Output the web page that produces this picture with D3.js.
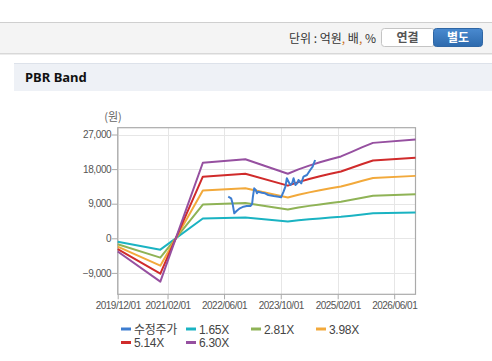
<!DOCTYPE html>
<html><head><meta charset="utf-8">
<script src="https://cdn.jsdelivr.net/npm/d3@7"></script>
<style>
html,body{margin:0;padding:0;background:#fff;width:492px;height:361px;overflow:hidden;font-family:"Liberation Sans",Arial,sans-serif;}
</style></head>
<body>
<svg id="c" width="492" height="361"></svg>
<script>
// ---- data ----
const bandDates = ["2019-12-01","2020-12-01","2021-12-01","2022-12-01","2023-12-01","2024-03-01","2024-06-01","2024-09-01","2024-12-01","2025-03-01","2025-06-01","2025-09-01","2025-12-01","2026-12-01"];
const band165 = [-899,-2954,5148,5387,4397,4693,4953,5178,5387,5579,5886,6207,6501,6732];
const band281 = [-1531,-5030,8767,9175,7489,7992,8436,8818,9175,9501,10023,10571,11071,11465];
const band398 = [-2169,-7124,12418,12995,10607,11319,11948,12489,12995,13456,14197,14973,15681,16238];
const band514 = [-2801,-9201,16037,16782,13698,14618,15430,16129,16782,17378,18334,19337,20252,20971];
const band630 = [-3434,-11277,19656,20570,16790,17917,18913,19769,20570,21300,22472,23701,24822,25704];
const priceDates = ["2022-07-07","2022-08-01","2022-08-13","2022-08-28","2022-09-19","2022-10-15","2022-11-15","2022-12-13","2023-01-13","2023-01-28","2023-02-04","2023-02-15","2023-03-01","2023-03-10","2023-03-22","2023-04-22","2023-05-19","2023-06-16","2023-08-01","2023-09-13","2023-10-04","2023-10-25","2023-11-10","2023-11-22","2023-12-07","2023-12-22","2024-01-07","2024-01-19","2024-02-04","2024-02-19","2024-03-01","2024-03-25","2024-04-13","2024-05-13","2024-06-10","2024-07-01","2024-07-22"];
const priceValues = [10820,10400,9100,6500,7180,7800,8220,8400,8400,8920,10820,13000,12560,11700,12120,11860,11700,11260,11000,10820,10660,12120,13420,15600,14720,13860,14300,15600,13860,14300,15160,14300,16020,16460,17760,18620,20360];
const seriesNames = ["수정주가","1.65X","2.81X","3.98X","5.14X","6.30X"];
const seriesColors = ["#3d7dd0","#1ab3c2","#8fb356","#f2a93b","#d02b2b","#9650a0"];
const yTicks = [-9000,0,9000,18000,27000];
const xTickLabels = ["2019/12/01","2021/02/01","2022/06/01","2023/10/01","2025/02/01","2026/06/01"];

const svg = d3.select("#c");
const parse = d3.timeParse("%Y-%m-%d");
const parseTick = d3.timeParse("%Y/%m/%d");

// ---- header bar ----
svg.append("rect").attr("x",0).attr("y",22).attr("width",492).attr("height",31).attr("fill","#f4f4f4");
svg.append("line").attr("x1",0).attr("x2",492).attr("y1",22.5).attr("y2",22.5).attr("stroke","#cfcfcf");
svg.append("line").attr("x1",0).attr("x2",492).attr("y1",53.5).attr("y2",53.5).attr("stroke","#d8d8d8");
svg.append("line").attr("x1",0).attr("x2",492).attr("y1",54.5).attr("y2",54.5).attr("stroke","#ececec");
const unit = svg.append("text").attr("x",376).attr("y",42.5).attr("text-anchor","end")
  .attr("font-size",12).attr("fill","#333").attr("font-family","'Noto Sans CJK KR',sans-serif");
unit.append("tspan").text("단위 : 억원");
unit.append("tspan").attr("fill","#c8701e").text(",");
unit.append("tspan").text(" 배");
unit.append("tspan").attr("fill","#c8701e").text(",");
unit.append("tspan").text(" %");
svg.append("rect").attr("x",381.5).attr("y",28.5).attr("width",53).attr("height",18).attr("rx",3)
  .attr("fill","#fff").attr("stroke","#c4c4c4");
const grad = svg.append("defs").append("linearGradient").attr("id","bg").attr("x1",0).attr("x2",0).attr("y1",0).attr("y2",1);
grad.append("stop").attr("offset","0%").attr("stop-color","#4a8ad0");
grad.append("stop").attr("offset","100%").attr("stop-color","#2d6aad");
svg.append("rect").attr("x",433.5).attr("y",28.5).attr("width",49).attr("height",18).attr("rx",3)
  .attr("fill","url(#bg)").attr("stroke","#2f66a4");
svg.append("text").attr("x",407.5).attr("y",42).attr("text-anchor","middle").attr("font-size",12)
  .attr("font-weight","bold").attr("fill","#555").attr("font-family","'Noto Sans CJK KR',sans-serif").text("연결");
svg.append("text").attr("x",458).attr("y",42).attr("text-anchor","middle").attr("font-size",12)
  .attr("font-weight","bold").attr("fill","#fff").attr("font-family","'Noto Sans CJK KR',sans-serif").text("별도");

// ---- section title ----
svg.append("rect").attr("x",14).attr("y",63).attr("width",478).attr("height",28).attr("fill","#eef1f6");
svg.append("line").attr("x1",14).attr("x2",492).attr("y1",63.5).attr("y2",63.5).attr("stroke","#dde2ea");
svg.append("text").attr("x",25).attr("y",82).attr("font-size",13).attr("font-weight","bold")
  .attr("fill","#111").attr("font-family","'Noto Sans','Liberation Sans',sans-serif").text("PBR Band");

// ---- chart ----
const L=117.7, R=415.5, T=127.7, B=294.3;
const x = d3.scaleTime().domain([parse("2019-12-01"), parse("2026-12-01")]).range([L,R]);
const y = d3.scaleLinear().domain([(238.3-B)*9000/34.6, (238.3-T)*9000/34.6]).range([B,T]);

const g = svg.append("g");
// grid
g.selectAll(".hg").data(yTicks).enter().append("line")
  .attr("x1",L).attr("x2",R).attr("y1",d=>Math.round(y(d))+0.5).attr("y2",d=>Math.round(y(d))+0.5)
  .attr("stroke","#e6e6e6");
g.selectAll(".vg").data(xTickLabels).enter().append("line")
  .attr("x1",d=>Math.round(x(parseTick(d)))+0.5).attr("x2",d=>Math.round(x(parseTick(d)))+0.5)
  .attr("y1",T).attr("y2",B).attr("stroke","#e6e6e6");

// axes
const yAxis = d3.axisLeft(y).tickValues(yTicks).tickSize(6).tickSizeOuter(0).tickFormat(d3.format(","));
const ya = g.append("g").attr("transform",`translate(${L},0)`).call(yAxis);
ya.select(".domain").remove();
ya.selectAll("line").attr("stroke","#aaa");
ya.selectAll("text").attr("font-size",10).attr("fill","#555").attr("letter-spacing","-0.4px")
  .attr("font-family","'Liberation Sans',Arial,sans-serif").attr("x",-6.5);

const xAxis = d3.axisBottom(x).tickValues(xTickLabels.map(parseTick)).tickSize(5).tickSizeOuter(0)
  .tickFormat((d,i)=>xTickLabels[i]);
const xa = g.append("g").attr("transform",`translate(0,${B})`).call(xAxis);
xa.select(".domain").remove();
xa.selectAll("line").attr("stroke","#aaa");
xa.selectAll("text").attr("font-size",10).attr("fill","#555").attr("letter-spacing","-0.5px")
  .attr("font-family","'Liberation Sans',Arial,sans-serif").attr("y",8);

// border
g.append("rect").attr("x",L).attr("y",T).attr("width",R-L).attr("height",B-T)
  .attr("fill","none").attr("stroke","#aaa").attr("stroke-width",1.2);

svg.append("text").attr("x",113).attr("y",121).attr("text-anchor","middle").attr("font-size",11)
  .attr("fill","#666").attr("font-family","'Noto Sans CJK KR',sans-serif").text("(원)");

// lines
const line = d3.line().x(d=>x(d[0])).y(d=>y(d[1]));
const bands = [band165, band281, band398, band514, band630];
const bd = bandDates.map(parse);
bands.forEach((arr,i)=>{
  g.append("path").datum(arr.map((v,j)=>[bd[j],v])).attr("d",line)
    .attr("fill","none").attr("stroke",seriesColors[i+1]).attr("stroke-width",2).attr("stroke-linejoin","round");
});
const pd = priceDates.map(parse);
g.append("path").datum(priceValues.map((v,j)=>[pd[j],v])).attr("d",line)
  .attr("fill","none").attr("stroke",seriesColors[0]).attr("stroke-width",2).attr("stroke-linejoin","round");

// legend
const leg = svg.append("g");
seriesNames.forEach((n,i)=>{
  const col = i%4, row = Math.floor(i/4);
  const lx = 121 + col*65, ly = 329 + row*13.5;
  leg.append("line").attr("x1",lx).attr("x2",lx+10).attr("y1",ly).attr("y2",ly)
    .attr("stroke",seriesColors[i]).attr("stroke-width",3);
  leg.append("text").attr("x",lx+13).attr("y",ly+4.5).attr("font-size",12).attr("fill","#444")
    .attr("letter-spacing","-0.3px")
    .attr("font-family", i===0 ? "'Noto Sans CJK KR',sans-serif" : "'Liberation Sans',Arial,sans-serif").text(n);
});
</script>
</body></html>
